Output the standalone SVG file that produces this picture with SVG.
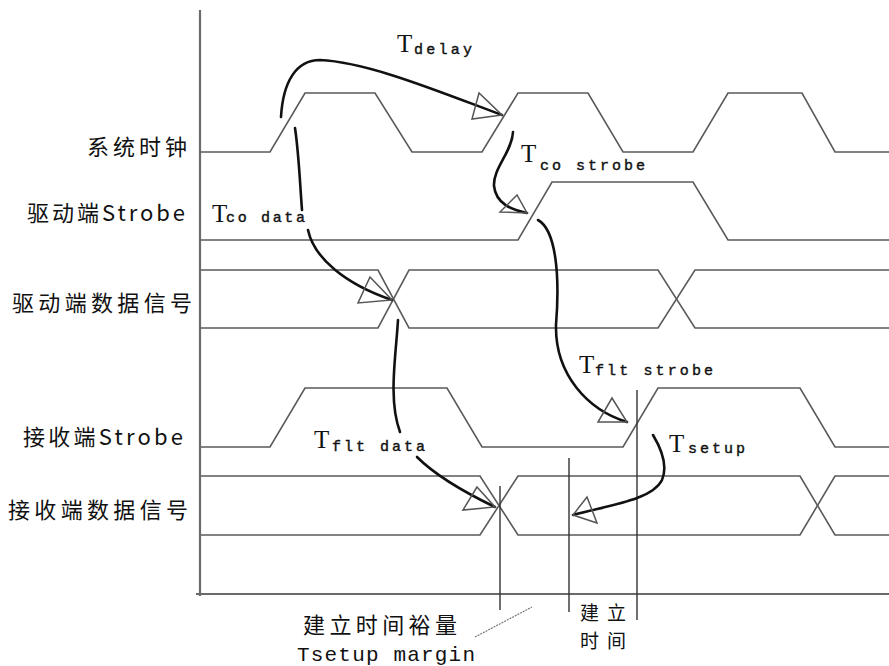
<svg xmlns="http://www.w3.org/2000/svg" width="889" height="666" viewBox="0 0 889 666">
<style>
.sig{fill:none;stroke:#5a5a5a;stroke-width:1.6;stroke-linejoin:miter}
.axis{fill:none;stroke:#6a6a6a;stroke-width:2.2}
.mark{fill:none;stroke:#333;stroke-width:1.4}
.cur{fill:none;stroke:#111;stroke-width:2.6;stroke-linecap:round}
.tri{fill:none;stroke:#555;stroke-width:1.5;stroke-linejoin:miter}
.cn{font-family:"Noto Sans CJK SC","Noto Sans",sans-serif;font-size:22px;fill:#111}
.cns{font-family:"Noto Sans CJK SC","Noto Sans",sans-serif;font-size:19px;fill:#111}
.T{font-family:"Liberation Serif",serif;font-size:25px;fill:#111}
.sub{font-family:"Liberation Mono",monospace;font-size:15px;fill:#111;stroke:#111;stroke-width:0.4}
.mono{font-family:"Liberation Mono",monospace;font-size:21px;fill:#111}
</style>
<rect width="889" height="666" fill="#fff"/>
<g id="axes">
<path class="axis" d="M200,10 V596"/>
<path class="axis" d="M196,594 H889"/>
</g>
<g id="clk">
<path class="sig" d="M201,152 H270 L305,93 H375 L412,152 H482 L518,93 H588 L623,152 H693 L728,93 H802 L835,152 H889"/>
<text class="cn" x="87" y="155" textLength="100" lengthAdjust="spacing">系统时钟</text>
</g>
<g id="drvStrobe">
<path class="sig" d="M201,240 H518 L552,182 H693 L728,240 H889"/>
<text class="cn" x="27" y="221" textLength="158" lengthAdjust="spacing">驱动端Strobe</text>
</g>
<g id="drvData">
<path class="sig" d="M201,270 H378 L409,328 H658 L695,270 H889"/>
<path class="sig" d="M201,328 H378 L409,270 H658 L695,328 H889"/>
<text class="cn" x="12" y="311" textLength="180" lengthAdjust="spacing">驱动端数据信号</text>
</g>
<g id="rcvStrobe">
<path class="sig" d="M201,447 H270 L305,388 H447 L482,447 H623 L658,388 H800 L835,447 H889"/>
<text class="cn" x="23" y="445" textLength="160" lengthAdjust="spacing">接收端Strobe</text>
</g>
<g id="rcvData">
<path class="sig" d="M201,476 H480 L518,535 H800 L835,476 H889"/>
<path class="sig" d="M201,535 H480 L518,476 H800 L835,535 H889"/>
<text class="cn" x="8" y="518" textLength="180" lengthAdjust="spacing">接收端数据信号</text>
</g>
<g id="markers">
<path class="mark" d="M500,486 V610"/>
<path class="mark" d="M569,458 V612"/>
<path class="mark" d="M637,390 V620"/>
<path d="M475,637 L532,607" fill="none" stroke="#777" stroke-width="1.2" stroke-dasharray="2,1"/>
<text class="cn" x="303" y="633" textLength="154" lengthAdjust="spacing">建立时间裕量</text>
<text class="mono" x="297" y="661" textLength="178" lengthAdjust="spacing">Tsetup margin</text>
<text class="cns" x="580" y="620" textLength="46" lengthAdjust="spacing">建立</text>
<text class="cns" x="580" y="648" textLength="46" lengthAdjust="spacing">时间</text>
</g>
<g id="connectors">
<path class="cur" d="M281,117 C283,82 296,60 320,60 C368,62 440,92 502,115"/>
<path class="tri" d="M479,93 L472,119 L502,115 Z"/>
<path class="cur" d="M513,132 C512,152 493,168 494,186 C496,204 512,210 527,213"/>
<path class="tri" d="M517,195 L500,212 L527,213 Z"/>
<path class="cur" d="M295,128 C299,155 300,185 302,210"/>
<path class="cur" d="M308,230 C314,258 345,284 392,300"/>
<path class="tri" d="M370,277 L358,303 L392,300 Z"/>
<path class="cur" d="M538,220 C556,230 560,275 556,325 C555,375 588,410 627,422"/>
<path class="tri" d="M612,398 L598,422 L627,422 Z"/>
<path class="cur" d="M398,320 C396,355 388,400 400,432"/>
<path class="cur" d="M417,457 C438,478 468,494 495,507"/>
<path class="tri" d="M477,487 L463,510 L495,507 Z"/>
<path class="cur" d="M653,435 C662,450 668,466 662,480 C652,500 610,505 573,515"/>
<path class="tri" d="M587,497 L597,523 L573,515 Z"/>
</g>
<g id="labels">
<text class="T" x="397" y="52">T</text><text class="sub" x="414" y="54" textLength="58" lengthAdjust="spacing">delay</text>
<text class="T" x="521" y="162">T</text><text class="sub" x="540" y="170" textLength="105" lengthAdjust="spacing">co strobe</text>
<text class="T" x="212" y="222">T</text><text class="sub" x="226" y="222" textLength="79" lengthAdjust="spacing">co data</text>
<text class="T" x="314" y="448">T</text><text class="sub" x="332" y="451" textLength="93" lengthAdjust="spacing">flt data</text>
<text class="T" x="579" y="373">T</text><text class="sub" x="595" y="375" textLength="118" lengthAdjust="spacing">flt strobe</text>
<text class="T" x="669" y="452">T</text><text class="sub" x="688" y="453" textLength="57" lengthAdjust="spacing">setup</text>
</g>
</svg>
